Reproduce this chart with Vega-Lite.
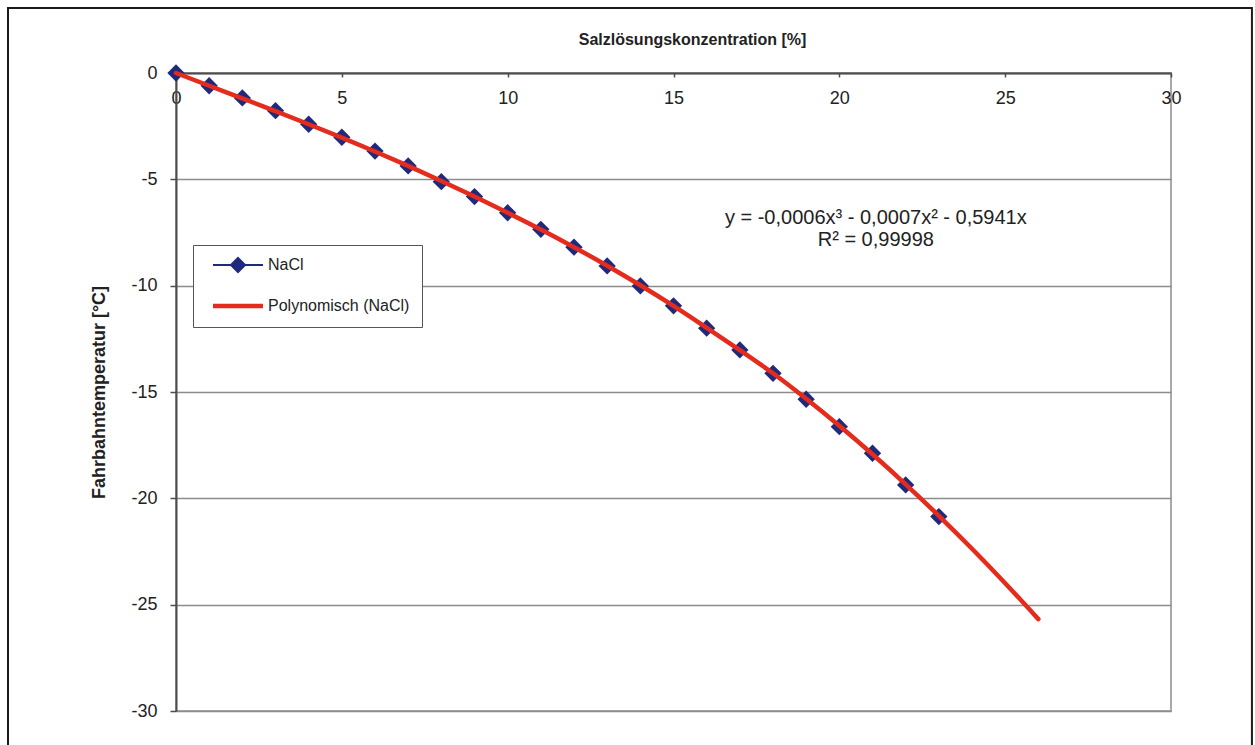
{
  "$schema": "https://vega.github.io/schema/vega-lite/v6.json",
  "width": 995,
  "height": 638,
  "autosize": {"type": "none"},
  "padding": {"left": 176, "top": 73, "right": 84, "bottom": 34},
  "background": "white",
  "config": {
    "font": "Liberation Sans",
    "view": {"stroke": "#a9a9a9", "strokeWidth": 2}
  },
  "datasets": {
    "nacl": [
      {"x": 0, "y": 0, "series": "NaCl"},
      {"x": 1, "y": -0.6, "series": "NaCl"},
      {"x": 2, "y": -1.17, "series": "NaCl"},
      {"x": 3, "y": -1.77, "series": "NaCl"},
      {"x": 4, "y": -2.41, "series": "NaCl"},
      {"x": 5, "y": -3.02, "series": "NaCl"},
      {"x": 6, "y": -3.67, "series": "NaCl"},
      {"x": 7, "y": -4.37, "series": "NaCl"},
      {"x": 8, "y": -5.11, "series": "NaCl"},
      {"x": 9, "y": -5.81, "series": "NaCl"},
      {"x": 10, "y": -6.57, "series": "NaCl"},
      {"x": 11, "y": -7.35, "series": "NaCl"},
      {"x": 12, "y": -8.19, "series": "NaCl"},
      {"x": 13, "y": -9.07, "series": "NaCl"},
      {"x": 14, "y": -10.01, "series": "NaCl"},
      {"x": 15, "y": -10.95, "series": "NaCl"},
      {"x": 16, "y": -12.0, "series": "NaCl"},
      {"x": 17, "y": -13.02, "series": "NaCl"},
      {"x": 18, "y": -14.12, "series": "NaCl"},
      {"x": 19, "y": -15.34, "series": "NaCl"},
      {"x": 20, "y": -16.63, "series": "NaCl"},
      {"x": 21, "y": -17.88, "series": "NaCl"},
      {"x": 22, "y": -19.37, "series": "NaCl"},
      {"x": 23, "y": -20.86, "series": "NaCl"}
    ],
    "trend": [
      {"x": 0, "y": 0, "series": "Polynomisch (NaCl)"},
      {"x": 1, "y": -0.6, "series": "Polynomisch (NaCl)"},
      {"x": 2, "y": -1.19, "series": "Polynomisch (NaCl)"},
      {"x": 3, "y": -1.79, "series": "Polynomisch (NaCl)"},
      {"x": 4, "y": -2.41, "series": "Polynomisch (NaCl)"},
      {"x": 5, "y": -3.04, "series": "Polynomisch (NaCl)"},
      {"x": 6, "y": -3.69, "series": "Polynomisch (NaCl)"},
      {"x": 7, "y": -4.37, "series": "Polynomisch (NaCl)"},
      {"x": 8, "y": -5.08, "series": "Polynomisch (NaCl)"},
      {"x": 9, "y": -5.81, "series": "Polynomisch (NaCl)"},
      {"x": 10, "y": -6.57, "series": "Polynomisch (NaCl)"},
      {"x": 11, "y": -7.36, "series": "Polynomisch (NaCl)"},
      {"x": 12, "y": -8.19, "series": "Polynomisch (NaCl)"},
      {"x": 13, "y": -9.06, "series": "Polynomisch (NaCl)"},
      {"x": 14, "y": -9.98, "series": "Polynomisch (NaCl)"},
      {"x": 15, "y": -10.95, "series": "Polynomisch (NaCl)"},
      {"x": 16, "y": -11.98, "series": "Polynomisch (NaCl)"},
      {"x": 17, "y": -13.03, "series": "Polynomisch (NaCl)"},
      {"x": 18, "y": -14.12, "series": "Polynomisch (NaCl)"},
      {"x": 19, "y": -15.32, "series": "Polynomisch (NaCl)"},
      {"x": 20, "y": -16.59, "series": "Polynomisch (NaCl)"},
      {"x": 21, "y": -17.93, "series": "Polynomisch (NaCl)"},
      {"x": 22, "y": -19.34, "series": "Polynomisch (NaCl)"},
      {"x": 23, "y": -20.82, "series": "Polynomisch (NaCl)"},
      {"x": 24, "y": -22.37, "series": "Polynomisch (NaCl)"},
      {"x": 25, "y": -23.99, "series": "Polynomisch (NaCl)"},
      {"x": 26, "y": -25.68, "series": "Polynomisch (NaCl)"}
    ],
    "frame": [{"label": "frame"}],
    "eq": [{"label": "y = -0,0006x³ - 0,0007x² - 0,5941x\nR² = 0,99998"}]
  },
  "layer": [
    {
      "data": {"name": "frame"},
      "mark": {"type": "rect", "fill": null, "filled": false, "stroke": "#1a1a1a", "strokeWidth": 2},
      "encoding": {
        "x": {"datum": -5.065, "type": "quantitative", "title": "Salzlösungskonzentration [%]"},
        "x2": {"datum": 32.44},
        "y": {"datum": 3.06, "type": "quantitative", "title": "Fahrbahntemperatur [°C]"},
        "y2": {"datum": -32.5}
      }
    },
    {
      "data": {"name": "nacl"},
      "mark": {"type": "line", "strokeWidth": 2},
      "encoding": {
        "x": {
          "field": "x", "type": "quantitative",
          "title": "Salzlösungskonzentration [%]",
          "scale": {"domain": [0, 30], "nice": false, "zero": false},
          "axis": {
            "orient": "top",
            "values": [0, 5, 10, 15, 20, 25, 30],
            "grid": false,
            "domainColor": "#4d4d4d",
            "domainWidth": 2,
            "tickColor": "#4d4d4d",
            "tickWidth": 1.5,
            "tickSize": -4,
            "labelPadding": -30,
            "labelFontSize": 18,
            "labelColor": "#222222",
            "labelFlush": false,
            "labelExpr": "replace(datum.label, '−', '-')",
            "titleFontSize": 16,
            "titleFontWeight": "bold",
            "titleColor": "#222222",
            "titlePadding": 25,
            "titleX": 516
          }
        },
        "y": {
          "field": "y", "type": "quantitative",
          "title": "Fahrbahntemperatur [°C]",
          "scale": {"domain": [-30, 0], "nice": false, "zero": false},
          "axis": {
            "orient": "left",
            "values": [-30, -25, -20, -15, -10, -5, 0],
            "grid": true,
            "gridColor": "#8c8c8c",
            "gridWidth": 1.5,
            "domainColor": "#4d4d4d",
            "domainWidth": 2,
            "tickColor": "#4d4d4d",
            "tickWidth": 1.5,
            "tickSize": 6,
            "labelPadding": 13,
            "labelFontSize": 18,
            "labelColor": "#222222",
            "labelFlush": false,
            "labelExpr": "replace(datum.label, '−', '-')",
            "titleFontSize": 18,
            "titleFontWeight": "bold",
            "titleColor": "#222222",
            "titlePadding": 22
          }
        },
        "color": {
          "field": "series", "type": "nominal",
          "scale": {"domain": ["NaCl", "Polynomisch (NaCl)"], "range": ["#1f2a7d", "#e52b1c"]},
          "legend": {
            "title": null,
            "orient": "none",
            "legendX": 17,
            "legendY": 172,
            "strokeColor": "#555555",
            "fillColor": "white",
            "padding": 12,
            "symbolSize": 1024,
            "symbolOffset": 25,
            "labelOffset": 22,
            "rowPadding": 20,
            "labelFontSize": 16,
            "labelColor": "#222222",
            "encode": {
              "symbols": {
                "update": {
                  "shape": {"signal": "datum.value === 'NaCl' ? 'M-1.5625,0H1.5625M0,-0.44L0.44,0L0,0.44L-0.44,0Z' : 'M-1.5625,0H1.5625'"},
                  "fill": {"signal": "datum.value === 'NaCl' ? '#1f2a7d' : 'transparent'"},
                  "stroke": {"signal": "datum.value === 'NaCl' ? '#1f2a7d' : '#e52b1c'"},
                  "strokeWidth": {"signal": "datum.value === 'NaCl' ? 2 : 4.5"},
                  "opacity": {"value": 1},
                  "size": {"value": 1024}
                }
              }
            }
          }
        }
      }
    },
    {
      "data": {"name": "nacl"},
      "mark": {"type": "point", "shape": "diamond", "filled": true, "size": 300, "opacity": 1},
      "encoding": {
        "x": {"field": "x", "type": "quantitative", "title": "Salzlösungskonzentration [%]"},
        "y": {"field": "y", "type": "quantitative", "title": "Fahrbahntemperatur [°C]"},
        "color": {"field": "series", "type": "nominal"}
      }
    },
    {
      "data": {"name": "trend"},
      "mark": {"type": "line", "strokeWidth": 4.5, "interpolate": "monotone", "strokeCap": "round"},
      "encoding": {
        "x": {"field": "x", "type": "quantitative", "title": "Salzlösungskonzentration [%]"},
        "y": {"field": "y", "type": "quantitative", "title": "Fahrbahntemperatur [°C]"},
        "color": {"field": "series", "type": "nominal"}
      }
    },
    {
      "data": {"name": "eq"},
      "mark": {"type": "text", "align": "center", "baseline": "middle", "fontSize": 20, "lineHeight": 22, "lineBreak": "\n", "color": "#222222"},
      "encoding": {
        "x": {"datum": 21.1, "type": "quantitative", "title": "Salzlösungskonzentration [%]"},
        "y": {"datum": -6.82, "type": "quantitative", "title": "Fahrbahntemperatur [°C]"},
        "text": {"field": "label"}
      }
    }
  ]
}
